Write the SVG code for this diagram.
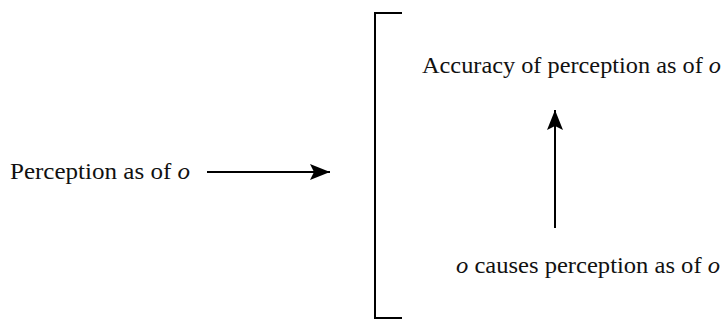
<svg xmlns="http://www.w3.org/2000/svg" width="727" height="320" viewBox="0 0 727 320">
<style>
text{font-family:"Liberation Serif","Times New Roman",serif;font-size:24px;fill:#111}
.i{font-style:italic}
.ln{stroke:#000;stroke-width:2;fill:none}
</style>
<defs>
<marker id="ah2" viewBox="0 0 20 16" refX="20" refY="8" markerWidth="20" markerHeight="16" markerUnits="userSpaceOnUse" orient="auto">
<path d="M0,0 L20,8 L0,16 L4,8 z" fill="#000"/>
</marker>
</defs>
<g id="perception">
<text x="10" y="179" textLength="180" lengthAdjust="spacingAndGlyphs">Perception as of <tspan class="i">o</tspan></text>
</g>
<g id="bracket">
<path class="ln" d="M402,13 L375,13 L375,318 L402,318"/>
</g>
<g id="accuracy">
<text x="422" y="73" textLength="299" lengthAdjust="spacingAndGlyphs">Accuracy of perception as of <tspan class="i">o</tspan></text>
</g>
<g id="causes">
<text x="456" y="273" textLength="264" lengthAdjust="spacingAndGlyphs"><tspan class="i">o</tspan> causes perception as of <tspan class="i">o</tspan></text>
</g>
<g id="connectors">
<line class="ln" x1="207" y1="172" x2="330" y2="172" marker-end="url(#ah2)"/>
<line class="ln" x1="555" y1="228" x2="555" y2="110" marker-end="url(#ah2)"/>
</g>
</svg>
